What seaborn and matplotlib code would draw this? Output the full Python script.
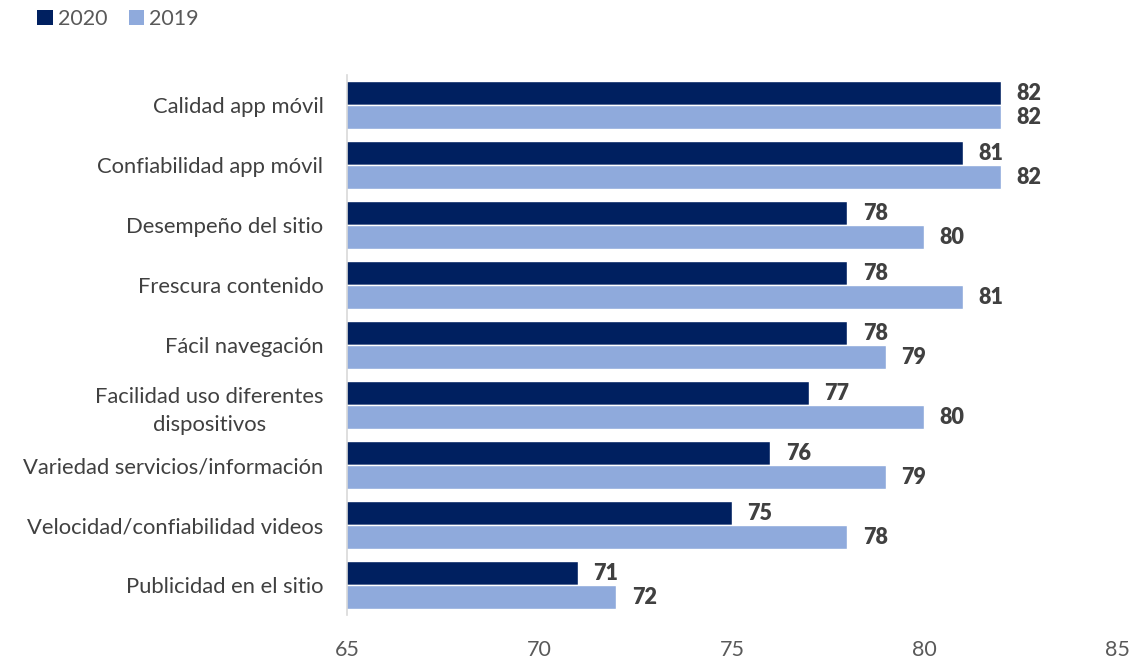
import matplotlib
matplotlib.use("Agg")
import matplotlib.pyplot as plt
import seaborn as sns
import pandas as pd
from matplotlib.patches import Patch

categorias = [
    "Calidad app móvil",
    "Confiabilidad app móvil",
    "Desempeño del sitio",
    "Frescura contenido",
    "Fácil navegación",
    "Facilidad uso diferentes\ndispositivos",
    "Variedad servicios/información",
    "Velocidad/confiabilidad videos",
    "Publicidad en el sitio",
]
valores_2020 = [82, 81, 78, 78, 78, 77, 76, 75, 71]
valores_2019 = [82, 82, 80, 81, 79, 80, 79, 78, 72]
series = ["2020", "2019"]
colores = {"2020": "#002060", "2019": "#8FAADC"}
x_ticks = [65, 70, 75, 80, 85]

df = pd.DataFrame({
    "categoria": categorias * 2,
    "valor": valores_2020 + valores_2019,
    "serie": ["2020"] * len(categorias) + ["2019"] * len(categorias),
})

sns.set_theme(style="white")
plt.rcParams["font.family"] = ["Lato", "DejaVu Sans"]

fig = plt.figure(figsize=(11.31, 6.6), dpi=100)
ax = fig.add_axes([0.3068, 0.068, 0.6808, 0.818])

sns.barplot(
    data=df, y="categoria", x="valor", hue="serie", hue_order=series,
    order=categorias, palette=colores, orient="h", width=0.8,
    saturation=1, ax=ax, legend=False,
)

ax.set_xlim(x_ticks[0], x_ticks[-1])
ax.set_ylim(len(categorias) - 0.5, -0.5)
ax.set_xticks(x_ticks)
ax.set_xlabel("")
ax.set_ylabel("")

for cont in ax.containers:
    ax.bar_label(cont, fmt="%d", padding=11, fontsize=15.5, fontweight="heavy",
                 color="#404040")

for s in ["top", "right", "bottom"]:
    ax.spines[s].set_visible(False)
ax.spines["left"].set_color("#D9D9D9")
ax.spines["left"].set_linewidth(1.2)

ax.tick_params(axis="x", length=0, pad=18, labelsize=15.5, labelcolor="#595959")
ax.tick_params(axis="y", length=0, pad=17, labelsize=15.8, labelcolor="#404040")
for lbl in ax.get_yticklabels():
    lbl.set_multialignment("center")
    lbl.set_linespacing(1.5)

handles = [Patch(facecolor=colores[s], edgecolor="none", label=s) for s in series]
fig.legend(handles=handles, loc="upper left", bbox_to_anchor=(0.016, 1.016),
           ncol=2, frameon=False, fontsize=15.5, handlelength=0.7,
           handleheight=0.7, handletextpad=0.25, columnspacing=1.0,
           labelcolor="#595959")

fig.savefig("out.png", dpi=100)
